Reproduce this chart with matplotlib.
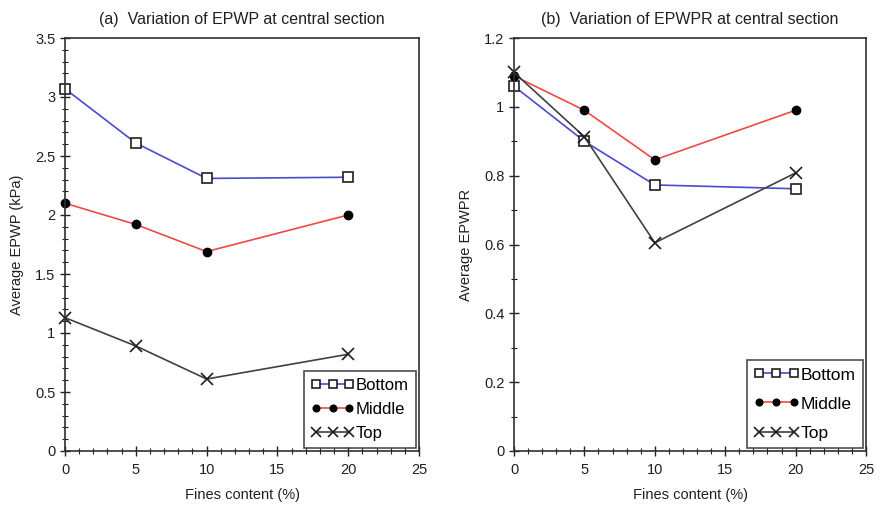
import matplotlib
matplotlib.use("Agg")
import matplotlib.pyplot as plt
from matplotlib.ticker import MultipleLocator

plt.rcParams['font.family'] = ['Liberation Sans', 'DejaVu Sans']

fines = [0, 5, 10, 20]
series_names = ["Bottom", "Middle", "Top"]

epwp_bottom = [3.07, 2.61, 2.31, 2.32]
epwp_middle = [2.10, 1.92, 1.69, 2.00]
epwp_top = [1.13, 0.89, 0.61, 0.82]

epwpr_bottom = [1.06, 0.90, 0.773, 0.762]
epwpr_middle = [1.09, 0.99, 0.846, 0.99]
epwpr_top = [1.10, 0.913, 0.605, 0.808]

colors = ["#4a4ad0", "#f04848", "#404040"]
markers = [dict(marker='s', mfc='white', mec='#202020', ms=7, mew=1.2),
           dict(marker='o', mfc='black', mec='black', ms=6),
           dict(marker='x', mec='#202020', ms=9, mew=1.2)]

fig = plt.figure(figsize=(8.8, 5.12), dpi=100)
W, H = 880, 512
ax1 = fig.add_axes([65 / W, 1 - 451 / H, (419 - 65) / W, (451 - 38) / H])
ax2 = fig.add_axes([514 / W, 1 - 451 / H, (866 - 514) / W, (451 - 38) / H])

def style(ax, ymax, ymaj, ymin_step, title, ylabel):
    ax.set_xlim(0, 25)
    ax.set_ylim(0, ymax)
    ax.xaxis.set_major_locator(MultipleLocator(5))
    ax.xaxis.set_minor_locator(MultipleLocator(1))
    ax.yaxis.set_major_locator(MultipleLocator(ymaj))
    ax.yaxis.set_minor_locator(MultipleLocator(ymin_step))
    ax.tick_params(which='major', direction='inout', length=7, width=1, labelsize=10.5, colors='#202020')
    ax.tick_params(which='minor', direction='inout', length=4, width=0.8, colors='#202020')
    ax.tick_params(axis='x', pad=5)
    for s in ax.spines.values():
        s.set_color('#303030')
        s.set_linewidth(1.2)
    ax.set_title(title, fontsize=11.5, pad=10, color='#202020')
    ax.set_ylabel(ylabel, fontsize=10.5, color='#202020', labelpad=8)
    ax.set_xlabel("Fines content (%)", fontsize=10.5, color='#202020', labelpad=8)

for ax, data in [(ax1, [epwp_bottom, epwp_middle, epwp_top]),
                 (ax2, [epwpr_bottom, epwpr_middle, epwpr_top])]:
    for name, vals, c, m in zip(series_names, data, colors, markers):
        ax.plot(fines, vals, color=c, lw=1.2, label=name, clip_on=False, **m)

style(ax1, 3.5, 0.5, 0.1, "(a)  Variation of EPWP at central section", "Average EPWP (kPa)")
style(ax2, 1.2, 0.2, 0.1, "(b)  Variation of EPWPR at central section", "Average EPWPR")
ax1.set_yticks([0, 0.5, 1, 1.5, 2, 2.5, 3, 3.5])
ax1.set_yticklabels(["0", "0.5", "1", "1.5", "2", "2.5", "3", "3.5"])
ax2.set_yticks([0, 0.2, 0.4, 0.6, 0.8, 1.0, 1.2])
ax2.set_yticklabels(["0", "0.2", "0.4", "0.6", "0.8", "1", "1.2"])

for ax, spacing, fs in [(ax1, 0.55, 12), (ax2, 0.8, 12.5)]:
    leg = ax.legend(loc='lower right', numpoints=3, fontsize=fs, frameon=True,
                    fancybox=False, edgecolor='#202020', borderpad=0.4,
                    handlelength=2.6, handletextpad=0.1, labelspacing=spacing,
                    borderaxespad=0.2, markerscale=0.8)
    leg.get_frame().set_linewidth(1.2)

fig.savefig("out.png", dpi=100)
